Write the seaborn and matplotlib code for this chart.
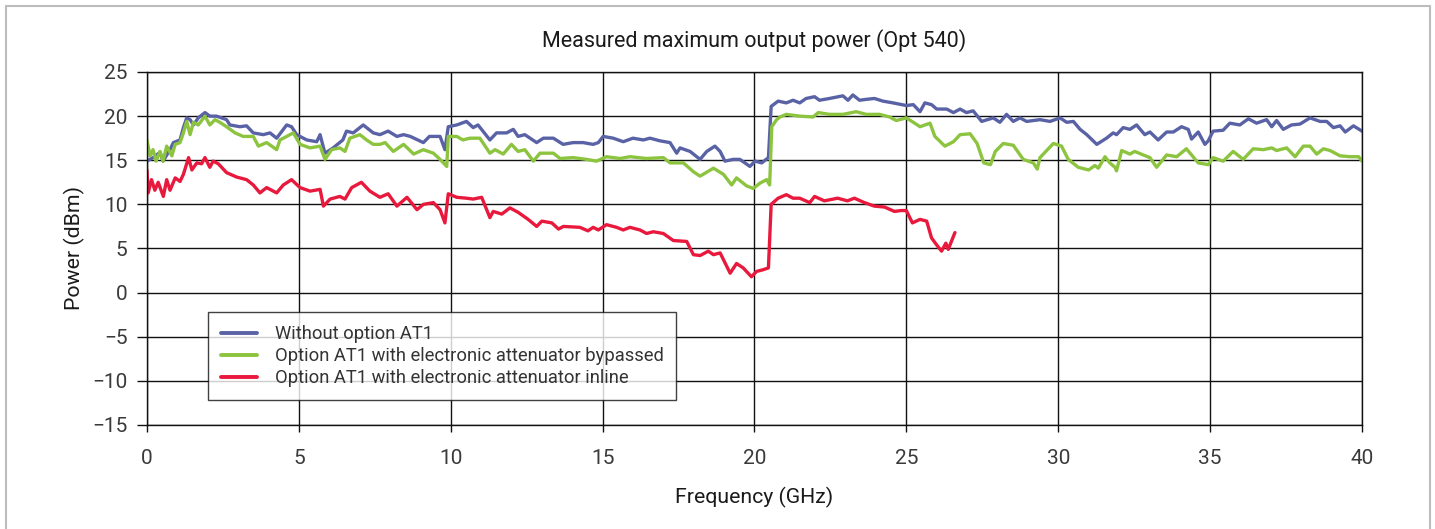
import numpy as np
import pandas as pd
import seaborn as sns
from matplotlib import pyplot as plt
from matplotlib.patches import Rectangle

# --- data (GHz, dBm) ---
freq_no_at1 = [0.0, 0.2, 0.43, 0.53, 0.76, 0.87, 1.09, 1.2, 1.31, 1.42, 1.53, 1.69, 1.91, 2.07, 2.29,
               2.62, 2.73, 3.06, 3.28, 3.5, 3.83, 4.05, 4.27, 4.6, 4.76, 4.93, 5.26, 5.59, 5.7, 5.86,
               6.13, 6.45, 6.57, 6.79, 7.12, 7.45, 7.67, 7.94, 8.23, 8.45, 8.67, 9.1, 9.3, 9.65, 9.81,
               9.92, 10.2, 10.52, 10.74, 10.9, 11.29, 11.51, 11.84, 12.06, 12.22, 12.44, 12.83, 13.05,
               13.38, 13.7, 14.03, 14.36, 14.69, 14.86, 15.02, 15.35, 15.68, 16.0, 16.34, 16.56, 16.89,
               17.22, 17.44, 17.55, 17.88, 18.21, 18.43, 18.7, 18.87, 19.03, 19.3, 19.52, 19.85, 20.02,
               20.24, 20.46, 20.55, 20.78, 21.05, 21.27, 21.49, 21.7, 21.98, 22.14, 22.47, 22.91, 23.08,
               23.24, 23.46, 23.68, 23.95, 24.23, 24.56, 25.0, 25.23, 25.45, 25.61, 25.83, 26.0, 26.33,
               26.55, 26.77, 26.98, 27.2, 27.48, 27.86, 28.08, 28.3, 28.52, 28.74, 28.96, 29.4, 29.73,
               30.06, 30.28, 30.5, 30.72, 30.94, 31.27, 31.59, 31.81, 31.92, 32.14, 32.36, 32.58, 32.85,
               33.02, 33.29, 33.57, 33.79, 34.06, 34.28, 34.39, 34.61, 34.83, 34.94, 35.1, 35.43, 35.65,
               35.98, 36.26, 36.53, 36.86, 37.03, 37.19, 37.41, 37.68, 37.96, 38.29, 38.62, 38.84, 39.06,
               39.28, 39.45, 39.72, 40.0]
pow_no_at1 = [14.9, 15.3, 15.9, 14.9, 16.2, 17.0, 17.3, 18.7, 19.8, 19.6, 19.0, 19.8, 20.4, 20.0, 20.0,
              19.6, 19.0, 18.8, 18.9, 18.1, 17.9, 18.1, 17.5, 19.0, 18.8, 17.9, 17.3, 17.1, 17.9, 15.8,
              16.4, 17.3, 18.3, 18.1, 19.0, 18.1, 17.9, 18.3, 17.7, 17.9, 17.7, 17.0, 17.7, 17.7, 16.2,
              18.8, 19.0, 19.4, 18.7, 19.0, 17.3, 18.1, 18.1, 18.5, 17.7, 17.9, 17.0, 17.5,
              17.5, 16.8, 17.0, 17.0, 16.8, 17.0, 17.7, 17.5, 17.1, 17.5, 17.3, 17.5, 17.2,
              17.0, 15.8, 16.4, 16.0, 15.1, 16.0, 16.6, 16.0, 14.9, 15.1, 15.1, 14.3, 14.9,
              14.7, 15.3, 21.1, 21.7, 21.5, 21.8, 21.5, 22.0, 22.2, 21.8, 22.0, 22.3, 21.8,
              22.4, 21.8, 21.9, 22.0, 21.7, 21.5, 21.2, 21.3, 20.5, 21.5, 21.3, 20.8, 20.8,
              20.4, 20.8, 20.4, 20.6, 19.4, 19.8, 19.3, 20.2, 19.4, 19.8, 19.4, 19.6, 19.4,
              19.8, 19.3, 19.4, 18.5, 17.9, 16.8, 17.5, 18.1, 17.9, 18.7, 18.5, 19.0, 17.9,
              18.2, 17.3, 18.2, 18.2, 18.8, 18.5, 17.4, 18.2, 16.8, 17.2, 18.3, 18.4, 19.2,
              19.0, 19.7, 19.2, 19.6, 18.8, 19.5, 18.5, 19.0, 19.1, 19.8, 19.4, 19.4, 18.7,
              18.9, 18.2, 18.9, 18.3]

freq_bypassed = [0.0, 0.1, 0.2, 0.3, 0.43, 0.53, 0.65, 0.82, 0.93, 1.09, 1.2, 1.31, 1.42, 1.53, 1.69,
                 1.91, 2.07, 2.24, 2.4, 2.62, 2.9, 3.17, 3.5, 3.67, 3.94, 4.27, 4.38, 4.82, 5.04, 5.37,
                 5.7, 5.86, 6.08, 6.35, 6.52, 6.68, 7.01, 7.23, 7.45, 7.67, 7.84, 8.11, 8.45, 8.78, 9.1,
                 9.43, 9.65, 9.87, 9.92, 10.2, 10.4, 10.63, 10.96, 11.29, 11.46, 11.73, 12.0, 12.22,
                 12.44, 12.72, 12.94, 13.38, 13.6, 14.03, 14.47, 14.8, 15.13, 15.57, 15.9, 16.45, 17.0,
                 17.22, 17.66, 17.99, 18.21, 18.65, 18.98, 19.25, 19.41, 19.74, 19.96, 20.18, 20.4, 20.5,
                 20.57, 20.73, 20.84, 21.05, 21.49, 21.93, 22.1, 22.47, 22.91, 23.35, 23.68, 24.12, 24.45,
                 24.67, 25.0, 25.23, 25.45, 25.78, 25.94, 26.27, 26.55, 26.77, 27.1, 27.33, 27.55, 27.77,
                 27.93, 28.19, 28.52, 28.85, 29.18, 29.31, 29.4, 29.84, 30.11, 30.33, 30.66, 31.0, 31.21,
                 31.32, 31.54, 31.7, 31.87, 31.92, 32.09, 32.36, 32.52, 32.8, 33.02, 33.24, 33.57, 33.9,
                 34.22, 34.61, 34.94, 35.1, 35.43, 35.76, 36.09, 36.42, 36.75, 37.03, 37.19, 37.52, 37.8,
                 38.07, 38.29, 38.51, 38.73, 38.95, 39.28, 39.61, 39.89, 40.0]
pow_bypassed = [17.3, 15.5, 16.2, 14.9, 16.0, 14.9, 16.6, 15.5, 16.8, 17.0, 18.1, 19.4, 17.9, 19.3, 19.0,
                20.0, 19.0, 19.6, 19.3, 18.8, 18.1, 17.7, 17.7, 16.6, 17.0, 16.2, 17.3, 18.1, 16.8, 16.4,
                16.6, 15.1, 16.2, 16.4, 16.0, 17.5, 17.9, 17.3, 16.8, 16.8, 17.0, 16.0, 16.8, 15.7, 16.2,
                15.8, 15.1, 14.3, 17.7, 17.7, 17.3, 17.5, 17.5, 15.8, 16.2, 15.7, 16.8, 16.0,
                16.2, 14.9, 15.8, 15.8, 15.2, 15.3, 15.1, 14.9, 15.4, 15.2, 15.4, 15.2, 15.3,
                14.7, 14.7, 13.7, 13.2, 14.1, 13.4, 12.2, 13.0, 12.1, 11.8, 12.4, 12.8, 12.2,
                18.8, 19.6, 19.9, 20.2, 20.0, 19.9, 20.4, 20.2, 20.2, 20.5, 20.2, 20.2, 19.9,
                19.5, 19.8, 19.3, 18.8, 19.2, 17.7, 16.6, 17.1, 17.9, 18.0, 16.9, 14.7, 14.5,
                16.0, 16.9, 16.7, 15.1, 14.7, 14.0, 15.3, 16.9, 16.6, 15.1, 14.2, 13.9, 14.4,
                14.1, 15.4, 14.7, 14.2, 13.8, 16.1, 15.7, 16.0, 15.6, 15.3, 14.2, 15.6, 15.4,
                16.3, 14.7, 14.5, 15.3, 14.9, 16.0, 15.1, 16.3, 16.2, 16.4, 16.1, 16.4, 15.4,
                16.6, 16.6, 15.7, 16.3, 16.1, 15.5, 15.4, 15.4, 14.9]

freq_inline = [0.0, 0.04, 0.15, 0.26, 0.37, 0.54, 0.65, 0.76, 0.93, 1.09, 1.2, 1.37, 1.48, 1.64, 1.8,
               1.91, 2.07, 2.18, 2.35, 2.62, 2.95, 3.28, 3.5, 3.72, 3.94, 4.27, 4.49, 4.76, 5.04, 5.37,
               5.7, 5.81, 6.03, 6.35, 6.52, 6.74, 7.06, 7.34, 7.67, 7.94, 8.23, 8.56, 8.89, 9.1, 9.43,
               9.65, 9.81, 9.92, 10.2, 10.52, 10.74, 11.02, 11.29, 11.4, 11.68, 11.95, 12.22, 12.55,
               12.83, 13.0, 13.33, 13.55, 13.71, 14.25, 14.52, 14.69, 14.86, 15.13, 15.46, 15.68, 15.9,
               16.23, 16.45, 16.67, 17.0, 17.33, 17.77, 17.99, 18.21, 18.48, 18.65, 18.87, 19.2, 19.41,
               19.63, 19.9, 20.07, 20.29, 20.46, 20.55, 20.78, 21.05, 21.27, 21.49, 21.82, 21.98, 22.3,
               22.74, 23.06, 23.29, 23.62, 23.95, 24.28, 24.61, 24.83, 25.0, 25.2, 25.45, 25.67, 25.83,
               26.0, 26.16, 26.3, 26.38, 26.6]
pow_inline = [13.9, 11.3, 12.8, 11.6, 12.5, 10.9, 12.8, 11.6, 13.0, 12.6, 13.4, 15.3, 13.9, 14.7, 14.6,
              15.3, 14.2, 14.9, 14.6, 13.6, 13.1, 12.8, 12.2, 11.3, 11.9, 11.3, 12.2, 12.8, 11.9, 11.5,
              11.7, 9.8, 10.6, 10.9, 10.6, 11.9, 12.5, 11.5, 10.8, 11.2, 9.8, 10.8, 9.4, 10.0, 10.2,
              9.4, 7.9, 11.2, 10.8, 10.7, 10.6, 10.8, 8.5, 9.2, 8.9, 9.6, 9.1, 8.3,
              7.5, 8.1, 7.9, 7.2, 7.5, 7.4, 7.0, 7.4, 7.1, 7.7, 7.4, 7.1, 7.4,
              7.1, 6.7, 6.9, 6.7, 5.9, 5.8, 4.3, 4.2, 4.7, 4.3, 4.5, 2.2, 3.3,
              2.8, 1.8, 2.4, 2.6, 2.8, 10.0, 10.7, 11.1, 10.7, 10.7, 10.2, 10.9, 10.4,
              10.7, 10.4, 10.7, 10.2, 9.8, 9.7, 9.2, 9.3, 9.3, 7.9, 8.3, 8.1, 6.2,
              5.4, 4.7, 5.6, 4.9, 6.8]

series_names = ["Without option AT1",
                "Option AT1 with electronic attenuator bypassed",
                "Option AT1 with electronic attenuator inline"]
x_ticks = [0, 5, 10, 15, 20, 25, 30, 35, 40]
y_ticks = [-15, -10, -5, 0, 5, 10, 15, 20, 25]

colors = {series_names[0]: "#5a62a6",
          series_names[1]: "#8cc43f",
          series_names[2]: "#e8193c"}

df = pd.concat([
    pd.DataFrame({"freq": freq_no_at1, "power": pow_no_at1, "series": series_names[0]}),
    pd.DataFrame({"freq": freq_bypassed, "power": pow_bypassed, "series": series_names[1]}),
    pd.DataFrame({"freq": freq_inline, "power": pow_inline, "series": series_names[2]}),
], ignore_index=True)

sns.set_style("white")
plt.rcParams['font.family'] = ['Roboto', 'DejaVu Sans']

fig = plt.figure(figsize=(14.35, 5.29), dpi=100)
ax = fig.add_axes([0.1024, 0.1966, 0.8467, 0.6673])

sns.lineplot(data=df, x="freq", y="power", hue="series", hue_order=series_names,
             palette=colors, estimator=None, sort=False, linewidth=2.4, ax=ax)

ax.set_xlim(0, 40)
ax.set_ylim(-15, 25)
ax.set_xticks(x_ticks)
ax.set_yticks(y_ticks)
ax.set_yticklabels([str(t).replace("-", "\u2212") for t in y_ticks])
ax.grid(True, color="#111111", linewidth=1.0)
ax.set_axisbelow(True)
for s in ax.spines.values():
    s.set_color("#111111")
    s.set_linewidth(1.0)
ax.tick_params(axis="y", direction="out", length=7.5, width=1.0, color="#111111",
               labelsize=15, labelcolor="#3a3a3a", pad=6.5, left=True)
ax.tick_params(axis="x", direction="out", length=5, width=1.0, color="#111111",
               labelsize=15, labelcolor="#3a3a3a", pad=12, bottom=True)

ax.set_title("Measured maximum output power (Opt 540)", fontsize=15.5, color="#1a1a1a", pad=18)
ax.set_xlabel("Frequency (GHz)", fontsize=15.3, color="#1a1a1a", labelpad=14)
ax.set_ylabel("Power (dBm)", fontsize=15.3, color="#1a1a1a", labelpad=5)

leg = ax.legend(loc="lower left", bbox_to_anchor=(0.05, 0.071), fontsize=13.2,
                frameon=True, fancybox=False, handlelength=2.0, handletextpad=0.95,
                borderpad=0.7, labelspacing=0.22, borderaxespad=0)
leg.get_frame().set_edgecolor("#111111")
leg.get_frame().set_linewidth(1.0)
for t in leg.get_texts():
    t.set_color("#333333")
for h in leg.get_lines():
    h.set_linewidth(2.8)

fig.patches.append(Rectangle((6 / 1435, -0.05), (1430 - 6) / 1435, 1.05 - 6 / 529,
                             transform=fig.transFigure, fill=False,
                             edgecolor="#bdbdbd", linewidth=1.5))

fig.savefig("out.png", dpi=100)
